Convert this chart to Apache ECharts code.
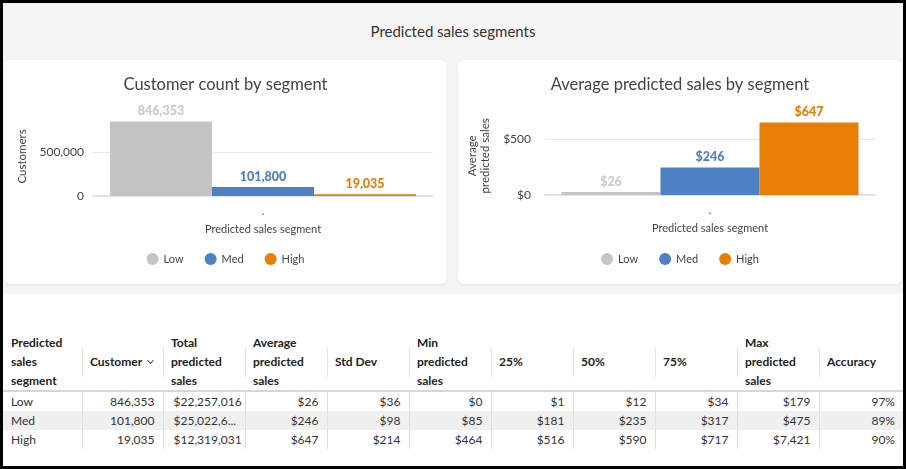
<!DOCTYPE html>
<html>
<head>
<meta charset="utf-8">
<title>Predicted sales segments</title>
<script src="https://cdn.jsdelivr.net/npm/echarts@6/dist/echarts.min.js"></script>
<style>
    html, body {
        margin: 0;
        padding: 0;
    }
    body {
        width: 906px;
        height: 469px;
        background: #000;
        position: relative;
        overflow: hidden;
        font-family: Lato, "Noto Sans", sans-serif;
    }
    .page {
        position: absolute;
        left: 3px;
        top: 3px;
        width: 900px;
        height: 463px;
        background: #f5f5f5;
    }
    .pageTitle {
        position: absolute;
        left: 0;
        top: 19px;
        width: 900px;
        text-align: center;
        font-size: 15px;
        color: #333;
    }
    .card {
        position: absolute;
        top: 57px;
        height: 224px;
        background: #fff;
        border-radius: 6px;
        box-shadow: 0 1px 3px rgba(0, 0, 0, 0.08);
    }
    .tableArea {
        position: absolute;
        left: 0;
        top: 291px;
        width: 900px;
        height: 172px;
        background: #fff;
    }
    table {
        position: absolute;
        left: 0;
        top: 39px;
        border-collapse: collapse;
        table-layout: fixed;
        width: 900px;
        font-size: 12px;
        color: #333;
    }
    th {
        font-weight: 700;
        color: #222;
        text-align: left;
        vertical-align: middle;
        line-height: 19px;
        padding: 0 8px;
        height: 57px;
        position: relative;
        border-bottom: 2px solid #d3d6dc;
    }
    th + th::before {
        content: '';
        position: absolute;
        left: 0;
        top: 15px;
        height: 29px;
        border-left: 1px solid #e2e2e2;
    }
    td {
        height: 19px;
        line-height: 19px;
        padding: 0 8px;
        text-align: right;
        white-space: nowrap;
        overflow: hidden;
    }
    td + td {
        border-left: 1px solid #e0e0e0;
    }
    td:first-child {
        text-align: left;
    }
    tr.alt td {
        background: #f0f0f0;
    }
    td.clip {
        text-align: left;
        padding-left: 10px;
    }
    .chev {
        display: inline-block;
        width: 4px;
        height: 4px;
        border-right: 1px solid #555;
        border-bottom: 1px solid #555;
        transform: rotate(45deg);
        margin-left: 6px;
        position: relative;
        top: -3px;
    }
</style>
</head>
<body>
<div class="page">
    <div class="pageTitle">Predicted sales segments</div>
    <div class="card" style="left:1px;width:443px;"><div id="countChart" style="width:443px;height:224px;"></div></div>
    <div class="card" style="left:455px;width:444px;"><div id="avgChart" style="width:444px;height:224px;"></div></div>
    <div class="tableArea"><table id="statsTable"></table></div>
</div>

<script>
// segment data
const segments = ['Low', 'Med', 'High']
const segmentColors = ['#c4c4c4', '#4d81c3', '#e87e06']
const labelColors = ['#c9c9c9', '#4d81c3', '#e87e06']
const customerCounts = [846353, 101800, 19035]
const avgPredictedSales = [26, 246, 647]
const xCategories = ['.']

// table data
const tableHeaders = [
    'Predicted<br>sales<br>segment', 'Customer', 'Total<br>predicted<br>sales', 'Average<br>predicted<br>sales',
    'Std Dev', 'Min<br>predicted<br>sales', '25%', '50%', '75%', 'Max<br>predicted<br>sales', 'Accuracy'
]
const tableRows = [
    ['Low', '846,353', '$22,257,016', '$26', '$36', '$0', '$1', '$12', '$34', '$179', '97%'],
    ['Med', '101,800', '$25,022,6...', '$246', '$98', '$85', '$181', '$235', '$317', '$475', '89%'],
    ['High', '19,035', '$12,319,031', '$647', '$214', '$464', '$516', '$590', '$717', '$7,421', '90%']
]
const columnWidths = [79, 81, 82, 82, 82, 82, 82, 82, 82, 82, 84]

const fontFamily = 'Lato, "Noto Sans", sans-serif'

function fmtNumber(v) {
    return v.toLocaleString('en-US')
}

function buildOption(cfg) {
    return {
        animation: false,
        textStyle: { fontFamily: fontFamily },
        title: {
            text: cfg.title,
            left: 'center',
            top: 11,
            textStyle: { fontSize: 16.5, fontWeight: 'normal', color: '#444', fontFamily: fontFamily }
        },
        legend: {
            data: segments,
            left: 'center',
            top: 188,
            icon: 'circle',
            itemWidth: 12,
            itemHeight: 12,
            itemGap: 21,
            textStyle: { fontSize: 11, color: '#444', fontFamily: fontFamily }
        },
        grid: cfg.grid,
        xAxis: {
            type: 'category',
            data: xCategories,
            name: 'Predicted sales segment',
            nameLocation: 'middle',
            nameGap: 28,
            nameTextStyle: { fontSize: 11, color: '#444', fontFamily: fontFamily },
            axisLine: { lineStyle: { color: '#dde2ec', width: 2 } },
            axisTick: { show: false },
            axisLabel: { margin: 10, fontSize: 11, color: '#444' }
        },
        yAxis: {
            type: 'value',
            min: 0,
            max: cfg.max,
            interval: cfg.interval,
            name: cfg.yName,
            nameLocation: 'middle',
            nameGap: cfg.nameGap,
            nameRotate: 90,
            nameTextStyle: { fontSize: 11.5, color: '#444', lineHeight: 13, fontFamily: fontFamily },
            axisLine: { show: false },
            axisTick: { show: false },
            axisLabel: {
                margin: cfg.labelMargin,
                fontSize: 12,
                color: '#444',
                fontFamily: fontFamily,
                showMaxLabel: false,
                formatter: cfg.axisFmt
            },
            splitLine: { showMaxLine: false, lineStyle: { color: '#e8e9ee' } }
        },
        series: segments.map((s, i) => ({
            name: s,
            type: 'bar',
            barGap: '0%',
            barCategoryGap: '10%',
            itemStyle: { color: segmentColors[i] },
            label: {
                show: true,
                position: 'top',
                distance: 4,
                fontSize: 12.5,
                fontWeight: 900,
                fontFamily: fontFamily,
                color: labelColors[i],
                formatter: p => cfg.valueFmt(p.value)
            },
            data: [cfg.values[i]]
        }))
    }
}

const countChart = echarts.init(document.getElementById('countChart'))
countChart.setOption(buildOption({
    title: 'Customer count by segment',
    values: customerCounts,
    max: 900000,
    interval: 500000,
    yName: 'Customers',
    nameGap: 64,
    labelMargin: 9,
    grid: { left: 89, right: 14, top: 56.8, bottom: 88 },
    axisFmt: v => fmtNumber(v),
    valueFmt: v => fmtNumber(v)
}))

const avgChart = echarts.init(document.getElementById('avgChart'))
avgChart.setOption(buildOption({
    title: 'Average predicted sales by segment',
    values: avgPredictedSales,
    max: 700,
    interval: 500,
    yName: 'Average\npredicted sales',
    nameGap: 49,
    labelMargin: 14,
    grid: { left: 87, right: 27, top: 56.6, bottom: 89 },
    axisFmt: v => '$' + fmtNumber(v),
    valueFmt: v => '$' + fmtNumber(v)
}))

// table
const table = document.getElementById('statsTable')
let html = '<colgroup>' + columnWidths.map(w => `<col style="width:${w}px">`).join('') + '</colgroup>'
html += '<tr>' + tableHeaders.map((h, i) => `<th>${h}${i === 1 ? '<span class="chev"></span>' : ''}</th>`).join('') + '</tr>'
tableRows.forEach((row, r) => {
    html += `<tr class="${r === 1 ? 'alt' : ''}">` + row.map((c, i) => `<td class="${i === 2 ? 'clip' : ''}">${c}</td>`).join('') + '</tr>'
})
table.innerHTML = html
</script>
</body>
</html>
